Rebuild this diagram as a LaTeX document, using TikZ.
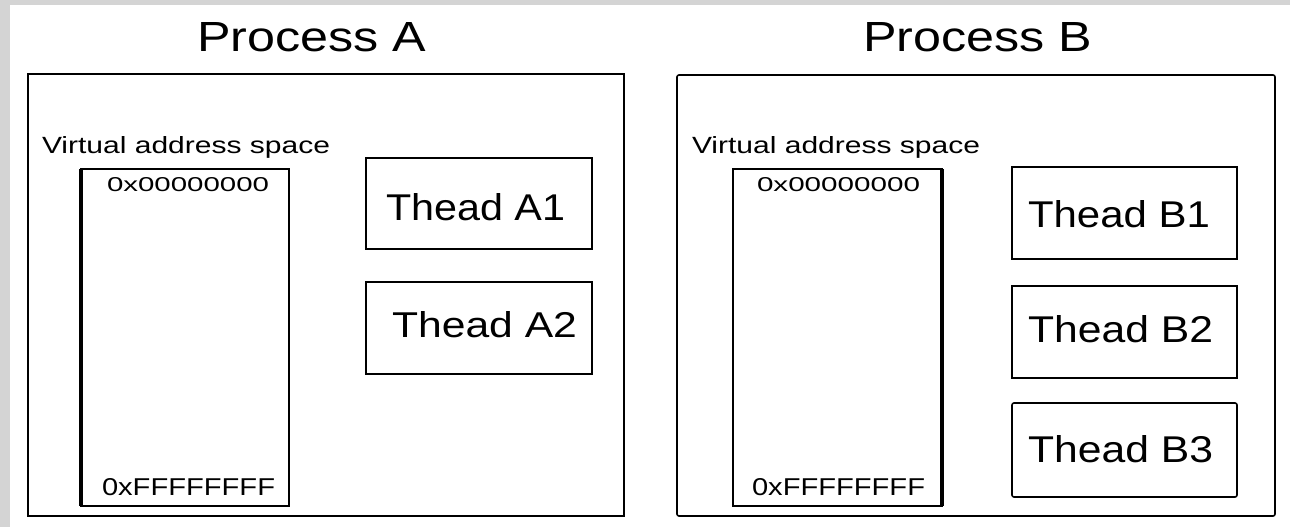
\documentclass[tikz,border=0pt]{standalone}
\usepackage{fontspec}
\setmainfont{Liberation Sans}
\usepackage{graphicx}
\newcommand{\fitxt}[3]{\resizebox{#1pt}{#2pt}{#3}}
\definecolor{bggray}{RGB}{212,212,212}
\begin{document}
\begin{tikzpicture}[x=1pt,y=-1pt,
  frame/.style={draw=black, line width=1.6pt, fill=white, inner sep=0pt, outer sep=0pt},
  thickside/.style={draw=black, line width=4pt},
  lbl/.style={inner sep=0pt, outer sep=0pt, anchor=base west}]
\useasboundingbox (0,0) rectangle (1290,527);
\fill[bggray] (0,0) rectangle (1290,527);
\fill[white] (10,5) rectangle (1290,527);

% process boxes
\node[frame, minimum width=596pt, minimum height=442pt] (procA) at (326,295) {};
\node[frame, rounded corners=2pt, minimum width=598pt, minimum height=441pt] (procB) at (976,295.5) {};

% memory boxes
\node[frame, minimum width=208pt, minimum height=337pt] (memA) at (185,337.5) {};
\draw[thickside] (memA.north west) -- (memA.south west);
\node[frame, minimum width=209pt, minimum height=337pt] (memB) at (837.5,337.5) {};
\draw[thickside] (memB.north east) -- (memB.south east);

% thread boxes
\node[frame, minimum width=226pt, minimum height=91pt] (thA1) at (479,203.5) {};
\node[frame, minimum width=226pt, minimum height=92pt] (thA2) at (479,328) {};
\node[frame, minimum width=225pt, minimum height=92pt] (thB1) at (1124.5,213) {};
\node[frame, minimum width=225pt, minimum height=92pt] (thB2) at (1124.5,332) {};
\node[frame, rounded corners=2pt, minimum width=225pt, minimum height=94pt] (thB3) at (1124.5,450) {};

% titles
\node[lbl] (tA) at (197,52) {\fitxt{229}{29}{Process A}};
\node[lbl] (tB) at (863,52) {\fitxt{229}{29}{Process B}};

% virtual address space labels
\node[lbl] (vA) at (42,153) {\fitxt{288}{17}{Virtual address space}};
\node[lbl] (vB) at (692,153) {\fitxt{288}{17}{Virtual address space}};

% addresses
\node[lbl] (a0A) at (107,191) {\fitxt{162}{14}{0x00000000}};
\node[lbl] (a0B) at (757,191) {\fitxt{163}{14}{0x00000000}};
\node[lbl] (aFA) at (102,495) {\fitxt{173}{17}{0xFFFFFFFF}};
\node[lbl] (aFB) at (752,495) {\fitxt{173}{17}{0xFFFFFFFF}};

% thread labels
\node[lbl] (lA1) at (386,220) {\fitxt{179}{27}{Thead A1}};
\node[lbl] (lA2) at (392,337) {\fitxt{185}{26}{Thead A2}};
\node[lbl] (lB1) at (1028,227) {\fitxt{182}{27}{Thead B1}};
\node[lbl] (lB2) at (1028,342) {\fitxt{185}{27}{Thead B2}};
\node[lbl] (lB3) at (1028,462) {\fitxt{185}{27}{Thead B3}};
\end{tikzpicture}
\end{document}
